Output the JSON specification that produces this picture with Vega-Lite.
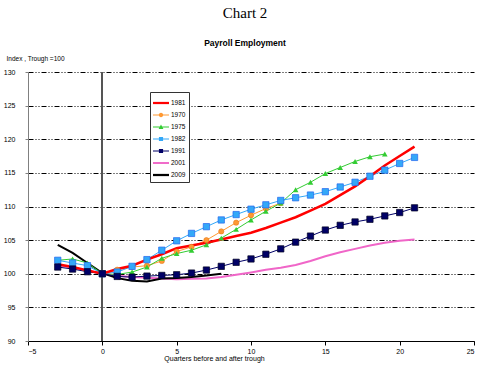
{
  "$schema": "https://vega.github.io/schema/vega-lite/v6.json",
  "width": 446,
  "height": 269,
  "autosize": {"type": "none"},
  "padding": {"left": 28, "top": 72, "right": 25, "bottom": 34},
  "background": "white",
  "title": {
    "text": "Chart 2",
    "subtitle": "Payroll Employment",
    "font": "Liberation Serif",
    "fontSize": 15,
    "fontWeight": "normal",
    "color": "black",
    "subtitleFont": "Liberation Sans",
    "subtitleFontSize": 8.5,
    "subtitleFontWeight": "bold",
    "subtitleColor": "black",
    "subtitlePadding": 18,
    "offset": 8,
    "anchor": "middle",
    "dx": -6
  },
  "config": {
    "view": {"stroke": null},
    "axis": {
      "labelFont": "Liberation Sans",
      "labelFontSize": 7,
      "labelColor": "black",
      "titleFont": "Liberation Sans",
      "titleFontSize": 7,
      "titleFontWeight": "normal",
      "titleColor": "black"
    }
  },
  "data": {
    "values": [
      {"series": "1981", "q": -3, "value": 101.4},
      {"series": "1981", "q": -2, "value": 101.0},
      {"series": "1981", "q": -1, "value": 100.5},
      {"series": "1981", "q": 0, "value": 100.0},
      {"series": "1981", "q": 1, "value": 100.7},
      {"series": "1981", "q": 2, "value": 101.2},
      {"series": "1981", "q": 3, "value": 102.1},
      {"series": "1981", "q": 4, "value": 102.9},
      {"series": "1981", "q": 5, "value": 103.8},
      {"series": "1981", "q": 6, "value": 104.2},
      {"series": "1981", "q": 7, "value": 104.6},
      {"series": "1981", "q": 8, "value": 105.1},
      {"series": "1981", "q": 9, "value": 105.6},
      {"series": "1981", "q": 10, "value": 106.1},
      {"series": "1981", "q": 11, "value": 106.8},
      {"series": "1981", "q": 12, "value": 107.6},
      {"series": "1981", "q": 13, "value": 108.4},
      {"series": "1981", "q": 14, "value": 109.4},
      {"series": "1981", "q": 15, "value": 110.4},
      {"series": "1981", "q": 16, "value": 111.7},
      {"series": "1981", "q": 17, "value": 113.0},
      {"series": "1981", "q": 18, "value": 114.5},
      {"series": "1981", "q": 19, "value": 116.1},
      {"series": "1981", "q": 20, "value": 117.5},
      {"series": "1981", "q": 21, "value": 118.9},

      {"series": "1970", "q": 0, "value": 100.0},
      {"series": "1970", "q": 1, "value": 100.6},
      {"series": "1970", "q": 2, "value": 101.0},
      {"series": "1970", "q": 3, "value": 101.2},
      {"series": "1970", "q": 4, "value": 101.9},
      {"series": "1970", "q": 5, "value": 103.3},
      {"series": "1970", "q": 6, "value": 104.0},
      {"series": "1970", "q": 7, "value": 105.0},
      {"series": "1970", "q": 8, "value": 106.3},
      {"series": "1970", "q": 9, "value": 107.6},
      {"series": "1970", "q": 10, "value": 108.7},
      {"series": "1970", "q": 11, "value": 109.7},
      {"series": "1970", "q": 12, "value": 110.5},

      {"series": "1975", "q": -3, "value": 102.0},
      {"series": "1975", "q": -2, "value": 102.2},
      {"series": "1975", "q": -1, "value": 101.6},
      {"series": "1975", "q": 0, "value": 100.0},
      {"series": "1975", "q": 1, "value": 99.9},
      {"series": "1975", "q": 2, "value": 100.25},
      {"series": "1975", "q": 3, "value": 101.0},
      {"series": "1975", "q": 4, "value": 102.3},
      {"series": "1975", "q": 5, "value": 103.0},
      {"series": "1975", "q": 6, "value": 103.5},
      {"series": "1975", "q": 7, "value": 104.3},
      {"series": "1975", "q": 8, "value": 105.3},
      {"series": "1975", "q": 9, "value": 106.6},
      {"series": "1975", "q": 10, "value": 108.0},
      {"series": "1975", "q": 11, "value": 109.3},
      {"series": "1975", "q": 12, "value": 110.5},
      {"series": "1975", "q": 13, "value": 112.5},
      {"series": "1975", "q": 14, "value": 113.6},
      {"series": "1975", "q": 15, "value": 114.9},
      {"series": "1975", "q": 16, "value": 115.8},
      {"series": "1975", "q": 17, "value": 116.7},
      {"series": "1975", "q": 18, "value": 117.4},
      {"series": "1975", "q": 19, "value": 117.8},

      {"series": "1982", "q": -3, "value": 102.0},
      {"series": "1982", "q": -2, "value": 101.6},
      {"series": "1982", "q": -1, "value": 101.2},
      {"series": "1982", "q": 0, "value": 100.0},
      {"series": "1982", "q": 1, "value": 100.25},
      {"series": "1982", "q": 2, "value": 101.1},
      {"series": "1982", "q": 3, "value": 102.1},
      {"series": "1982", "q": 4, "value": 103.5},
      {"series": "1982", "q": 5, "value": 104.9},
      {"series": "1982", "q": 6, "value": 106.0},
      {"series": "1982", "q": 7, "value": 107.0},
      {"series": "1982", "q": 8, "value": 108.0},
      {"series": "1982", "q": 9, "value": 108.8},
      {"series": "1982", "q": 10, "value": 109.6},
      {"series": "1982", "q": 11, "value": 110.25},
      {"series": "1982", "q": 12, "value": 110.9},
      {"series": "1982", "q": 13, "value": 111.3},
      {"series": "1982", "q": 14, "value": 111.7},
      {"series": "1982", "q": 15, "value": 112.2},
      {"series": "1982", "q": 16, "value": 112.9},
      {"series": "1982", "q": 17, "value": 113.6},
      {"series": "1982", "q": 18, "value": 114.5},
      {"series": "1982", "q": 19, "value": 115.4},
      {"series": "1982", "q": 20, "value": 116.4},
      {"series": "1982", "q": 21, "value": 117.3},

      {"series": "1991", "q": -3, "value": 101.0},
      {"series": "1991", "q": -2, "value": 100.7},
      {"series": "1991", "q": -1, "value": 100.3},
      {"series": "1991", "q": 0, "value": 100.0},
      {"series": "1991", "q": 1, "value": 99.6},
      {"series": "1991", "q": 2, "value": 99.5},
      {"series": "1991", "q": 3, "value": 99.65},
      {"series": "1991", "q": 4, "value": 99.75},
      {"series": "1991", "q": 5, "value": 99.85},
      {"series": "1991", "q": 6, "value": 100.1},
      {"series": "1991", "q": 7, "value": 100.55},
      {"series": "1991", "q": 8, "value": 101.1},
      {"series": "1991", "q": 9, "value": 101.7},
      {"series": "1991", "q": 10, "value": 102.2},
      {"series": "1991", "q": 11, "value": 102.9},
      {"series": "1991", "q": 12, "value": 103.7},
      {"series": "1991", "q": 13, "value": 104.7},
      {"series": "1991", "q": 14, "value": 105.6},
      {"series": "1991", "q": 15, "value": 106.5},
      {"series": "1991", "q": 16, "value": 107.2},
      {"series": "1991", "q": 17, "value": 107.7},
      {"series": "1991", "q": 18, "value": 108.1},
      {"series": "1991", "q": 19, "value": 108.6},
      {"series": "1991", "q": 20, "value": 109.1},
      {"series": "1991", "q": 21, "value": 109.8},

      {"series": "2001", "q": -3, "value": 101.3},
      {"series": "2001", "q": -2, "value": 100.9},
      {"series": "2001", "q": -1, "value": 100.5},
      {"series": "2001", "q": 0, "value": 100.0},
      {"series": "2001", "q": 1, "value": 99.7},
      {"series": "2001", "q": 2, "value": 99.5},
      {"series": "2001", "q": 3, "value": 99.4},
      {"series": "2001", "q": 4, "value": 99.3},
      {"series": "2001", "q": 5, "value": 99.2},
      {"series": "2001", "q": 6, "value": 99.25},
      {"series": "2001", "q": 7, "value": 99.3},
      {"series": "2001", "q": 8, "value": 99.5},
      {"series": "2001", "q": 9, "value": 99.85},
      {"series": "2001", "q": 10, "value": 100.2},
      {"series": "2001", "q": 11, "value": 100.6},
      {"series": "2001", "q": 12, "value": 100.9},
      {"series": "2001", "q": 13, "value": 101.3},
      {"series": "2001", "q": 14, "value": 101.9},
      {"series": "2001", "q": 15, "value": 102.6},
      {"series": "2001", "q": 16, "value": 103.2},
      {"series": "2001", "q": 17, "value": 103.7},
      {"series": "2001", "q": 18, "value": 104.2},
      {"series": "2001", "q": 19, "value": 104.6},
      {"series": "2001", "q": 20, "value": 104.9},
      {"series": "2001", "q": 21, "value": 105.1},

      {"series": "2009", "q": -3, "value": 104.3},
      {"series": "2009", "q": -2, "value": 103.1},
      {"series": "2009", "q": -1, "value": 101.6},
      {"series": "2009", "q": 0, "value": 100.1},
      {"series": "2009", "q": 1, "value": 99.35},
      {"series": "2009", "q": 2, "value": 98.95},
      {"series": "2009", "q": 3, "value": 98.85},
      {"series": "2009", "q": 4, "value": 99.3},
      {"series": "2009", "q": 5, "value": 99.35},
      {"series": "2009", "q": 6, "value": 99.5},
      {"series": "2009", "q": 7, "value": 99.75},
      {"series": "2009", "q": 8, "value": 100.0}
    ]
  },
  "encoding": {
    "x": {
      "field": "q",
      "type": "quantitative",
      "scale": {"domain": [-5, 25], "nice": false, "zero": false},
      "axis": {
        "values": [-5, 0, 5, 10, 15, 20, 25],
        "grid": false,
        "domainColor": "black",
        "tickColor": "black",
        "tickSize": 4,
        "labelPadding": 2,
        "title": "Quarters before and after trough",
        "titleX": 186,
        "titleY": 17,
        "titleAlign": "center",
        "titleBaseline": "middle",
        "titleAnchor": null
      }
    },
    "y": {
      "field": "value",
      "type": "quantitative",
      "scale": {"domain": [90, 130], "nice": false, "zero": false},
      "axis": {
        "values": [90, 95, 100, 105, 110, 115, 120, 125, 130],
        "grid": true,
        "gridColor": "black",
        "gridDash": [5, 2, 1, 2, 1, 2],
        "gridWidth": 1,
        "domainColor": "#808080",
        "tickColor": "#808080",
        "tickSize": 3,
        "labelPadding": 10,
        "title": "Index , Trough =100",
        "titleAngle": 0,
        "titleX": -22,
        "titleY": -14,
        "titleAlign": "left",
        "titleBaseline": "middle",
        "titleFontSize": 6.5
      }
    },
    "color": {
      "field": "series",
      "type": "nominal",
      "scale": {
        "domain": ["1981", "1970", "1975", "1982", "1991", "2001", "2009"],
        "range": ["#FF0000", "#FF9933", "#33CC33", "#33A8F8", "#000066", "#F066C8", "#000000"]
      },
      "legend": {
        "title": null,
        "orient": "none",
        "legendX": 122,
        "legendY": 20,
        "strokeColor": "#333333",
        "fillColor": "white",
        "padding": 3,
        "labelFont": "Liberation Sans",
        "labelFontSize": 6.5,
        "labelColor": "black",
        "symbolSize": 256,
        "rowPadding": -1,
        "labelOffset": 2,
        "encode": {
          "symbols": {
            "update": {
              "fill": {"scale": "color", "field": "value"},
              "stroke": {"value": "transparent"},
              "strokeWidth": {"value": 0},
              "shape": {"scale": "shape", "field": "value"},
              "size": {"value": 256},
              "opacity": {"value": 1}
            }
          }
        }
      }
    }
  },
  "layer": [
    {
      "mark": {"type": "rule", "color": "#555555", "strokeWidth": 1.2},
      "encoding": {"x": {"datum": 0}, "y": {}, "color": {"value": "#555555"}}
    },
    {
      "transform": [{"filter": "datum.series == '2001' || datum.series == '2009'"}],
      "mark": {"type": "line", "strokeWidth": 2}
    },
    {
      "transform": [{"filter": "datum.series == '1970' || datum.series == '1975' || datum.series == '1982' || datum.series == '1991'"}],
      "mark": {"type": "line", "strokeWidth": 1}
    },
    {
      "transform": [{"filter": "datum.series == '1981'"}],
      "mark": {"type": "line", "strokeWidth": 2.5}
    },
    {
      "transform": [{"filter": "datum.series == '1970'"}],
      "mark": {"type": "point", "shape": "circle", "filled": true, "size": 28, "opacity": 1, "stroke": "#E07010", "strokeWidth": 0.5}
    },
    {
      "transform": [{"filter": "datum.series == '1975'"}],
      "mark": {"type": "point", "shape": "triangle-up", "filled": true, "size": 32, "opacity": 1}
    },
    {
      "transform": [{"filter": "datum.series == '1982'"}],
      "mark": {"type": "point", "shape": "square", "filled": true, "size": 40, "opacity": 1, "stroke": "#2266EE", "strokeWidth": 0.7}
    },
    {
      "transform": [{"filter": "datum.series == '1991'"}],
      "mark": {"type": "point", "shape": "square", "filled": true, "size": 40, "opacity": 1, "stroke": "#000022", "strokeWidth": 0.7}
    },
    {
      "transform": [{"filter": "datum.q > 1000"}],
      "mark": {"type": "point", "filled": true, "size": 256, "opacity": 1},
      "encoding": {
        "shape": {
          "field": "series",
          "type": "nominal",
          "scale": {
            "domain": ["1981", "1970", "1975", "1982", "1991", "2001", "2009"],
            "range": [
              "M-1,-0.14H1V0.14H-1Z",
              "M-1,-0.07H1V0.07H-1Z M0.28,0A0.28,0.28,0,1,1,-0.28,0A0.28,0.28,0,1,1,0.28,0Z",
              "M-1,-0.07H1V0.07H-1Z M0,-0.32L0.3,0.24L-0.3,0.24Z",
              "M-1,-0.07H1V0.07H-1Z M-0.26,-0.26H0.26V0.26H-0.26Z",
              "M-1,-0.07H1V0.07H-1Z M-0.26,-0.26H0.26V0.26H-0.26Z",
              "M-1,-0.12H1V0.12H-1Z",
              "M-1,-0.14H1V0.14H-1Z"
            ]
          }
        }
      }
    }
  ]
}
